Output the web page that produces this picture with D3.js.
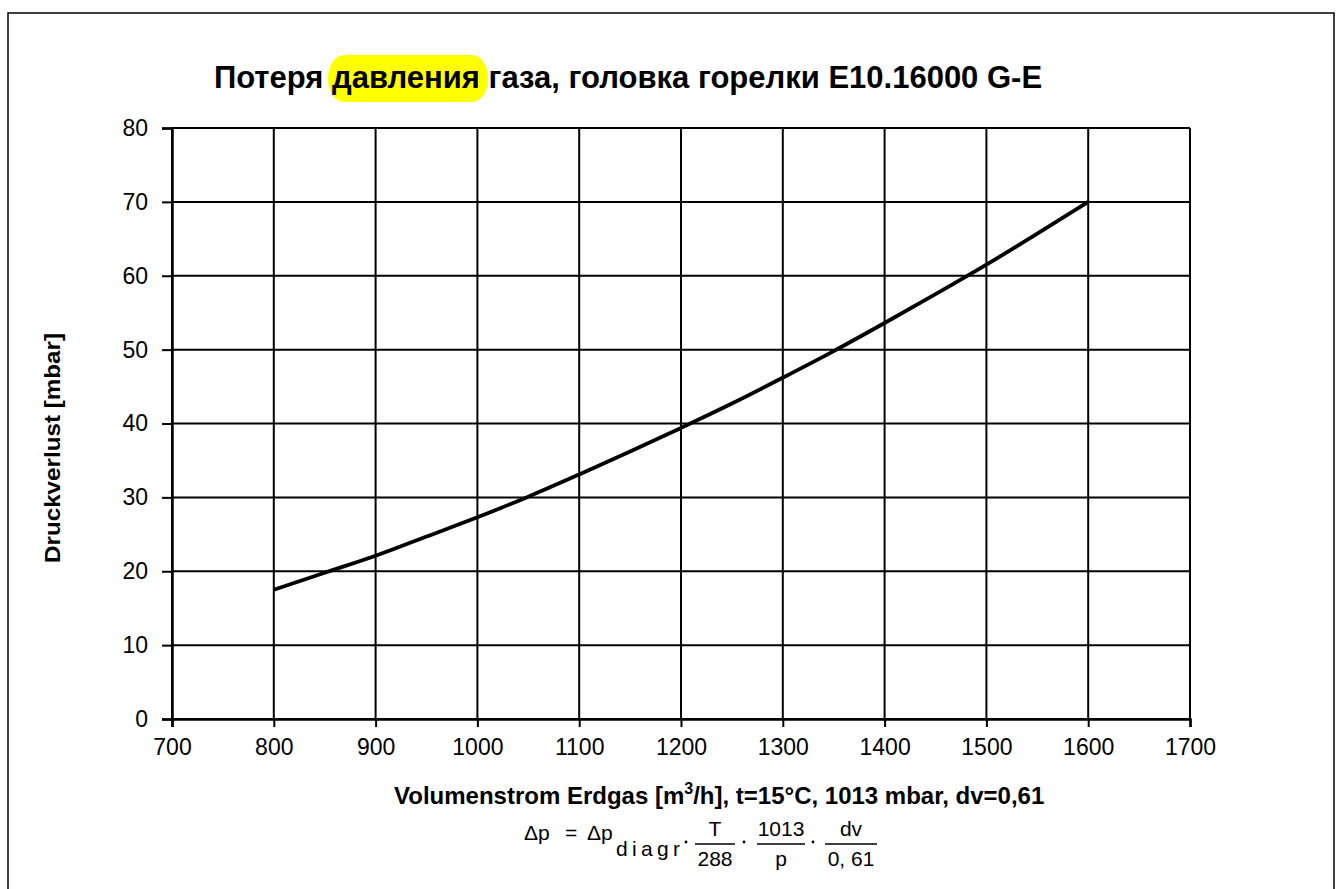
<!DOCTYPE html>
<html>
<head>
<meta charset="utf-8">
<script src="https://cdn.jsdelivr.net/npm/d3@7"></script>
<style>
  body { margin: 0; background: #fff; }
  text { font-family: "Liberation Sans", Arial, sans-serif; fill: #000; }
</style>
</head>
<body>
<div id="chart"></div>
<script>
// --- data ---
var flow = [800, 850, 900, 950, 1000, 1050, 1100, 1150, 1200, 1250, 1300, 1350, 1400, 1450, 1500, 1550, 1600];
var pressure = [17.5, 19.8, 22.1, 24.7, 27.3, 30.1, 33.1, 36.2, 39.4, 42.7, 46.2, 49.8, 53.6, 57.5, 61.5, 65.7, 70.0];
var xTicks = [700, 800, 900, 1000, 1100, 1200, 1300, 1400, 1500, 1600, 1700];
var yTicks = [0, 10, 20, 30, 40, 50, 60, 70, 80];

var W = 1336, H = 889;
var svg = d3.select("#chart").append("svg")
  .attr("width", W)
  .attr("height", H);

// outer frame
svg.append("rect")
  .attr("x", 8).attr("y", 13)
  .attr("width", 1326).attr("height", 900)
  .attr("fill", "none")
  .attr("stroke", "#000")
  .attr("stroke-width", 1.5);

// plot area (pixel box)
var pLeft = 172, pRight = 1190, pTop = 128, pBottom = 719;

var x = d3.scaleLinear().domain([700, 1700]).range([pLeft, pRight]);
var y = d3.scaleLinear().domain([0, 80]).range([pBottom, pTop]);

// grid lines
var grid = svg.append("g");
grid.selectAll(".gx").data(xTicks).enter().append("line")
  .attr("x1", function (d) { return x(d); })
  .attr("x2", function (d) { return x(d); })
  .attr("y1", pTop).attr("y2", pBottom)
  .attr("stroke", "#000").attr("stroke-width", 2);
grid.selectAll(".gy").data(yTicks).enter().append("line")
  .attr("y1", function (d) { return y(d); })
  .attr("y2", function (d) { return y(d); })
  .attr("x1", pLeft).attr("x2", pRight)
  .attr("stroke", "#000").attr("stroke-width", 2);

// axes
var xAxis = svg.append("g")
  .attr("transform", "translate(0," + pBottom + ")")
  .call(d3.axisBottom(x).tickValues(xTicks).tickSize(8).tickPadding(12).tickFormat(d3.format("d")));
var yAxis = svg.append("g")
  .attr("transform", "translate(" + pLeft + ",0)")
  .call(d3.axisLeft(y).tickValues(yTicks).tickSize(10).tickPadding(14).tickFormat(d3.format("d")));
[xAxis, yAxis].forEach(function (a) {
  a.select(".domain").attr("stroke", "#000").attr("stroke-width", 2.5);
  a.selectAll(".tick line").attr("stroke", "#000").attr("stroke-width", 2);
  a.selectAll(".tick text")
    .style("font-family", "'Liberation Sans', Arial, sans-serif")
    .style("font-size", "23px")
    .attr("fill", "#000");
});

// curve
var pts = flow.map(function (f, i) { return [f, pressure[i]]; });
svg.append("path")
  .datum(pts)
  .attr("fill", "none")
  .attr("stroke", "#000")
  .attr("stroke-width", 3.8)
  .attr("d", d3.line()
    .x(function (d) { return x(d[0]); })
    .y(function (d) { return y(d[1]); })
    .curve(d3.curveMonotoneX));

// title with highlighted word
var hl = svg.append("rect").attr("fill", "#ffff00");
var title = svg.append("text")
  .attr("x", 628).attr("y", 88)
  .attr("text-anchor", "middle")
  .style("font-size", "31px")
  .style("font-weight", "bold");
title.append("tspan").text("Потеря ");
var word = title.append("tspan").text("давления");
title.append("tspan").text(" газа, головка горелки E10.16000 G-E");
var bb = word.node().getBBox();
hl.attr("x", bb.x - 4).attr("y", 55)
  .attr("width", bb.width + 12).attr("height", 47)
  .attr("rx", 16).attr("ry", 23);

// y label
svg.append("text")
  .attr("transform", "translate(60,448) rotate(-90)")
  .attr("text-anchor", "middle")
  .attr("textLength", 230)
  .attr("lengthAdjust", "spacingAndGlyphs")
  .style("font-size", "22px")
  .style("font-weight", "bold")
  .text("Druckverlust [mbar]");

// x label
var xl = svg.append("text")
  .attr("x", 394).attr("y", 804)
  .style("font-size", "24px")
  .style("font-weight", "bold");
xl.append("tspan").text("Volumenstrom Erdgas [m");
xl.append("tspan").attr("dy", -10).style("font-size", "16px").text("3");
xl.append("tspan").attr("dy", 10).text("/h], t=15°C, 1013 mbar, dv=0,61");

// formula
var fm = svg.append("g").style("font-size", "21px");
fm.append("text").attr("x", 524).attr("y", 840).text("Δp");
fm.append("text").attr("x", 565).attr("y", 840).text("=");
fm.append("text").attr("x", 587).attr("y", 840).text("Δp");
fm.append("text").attr("x", 616).attr("y", 856)
  .attr("textLength", 64).attr("lengthAdjust", "spacing").text("diagr");
function dot(cx) {
  fm.append("circle").attr("cx", cx).attr("cy", 842).attr("r", 1.4).attr("fill", "#000");
}
function frac(cx, w, num, den) {
  fm.append("text").attr("x", cx).attr("y", 836).attr("text-anchor", "middle").text(num);
  fm.append("line").attr("x1", cx - w / 2).attr("x2", cx + w / 2)
    .attr("y1", 844).attr("y2", 844).attr("stroke", "#000").attr("stroke-width", 1.3);
  fm.append("text").attr("x", cx).attr("y", 866).attr("text-anchor", "middle").text(den);
}
dot(686);
frac(715, 40, "T", "288");
dot(744);
frac(781, 48, "1013", "p");
dot(813);
frac(851, 52, "dv", "0, 61");
</script>
</body>
</html>
